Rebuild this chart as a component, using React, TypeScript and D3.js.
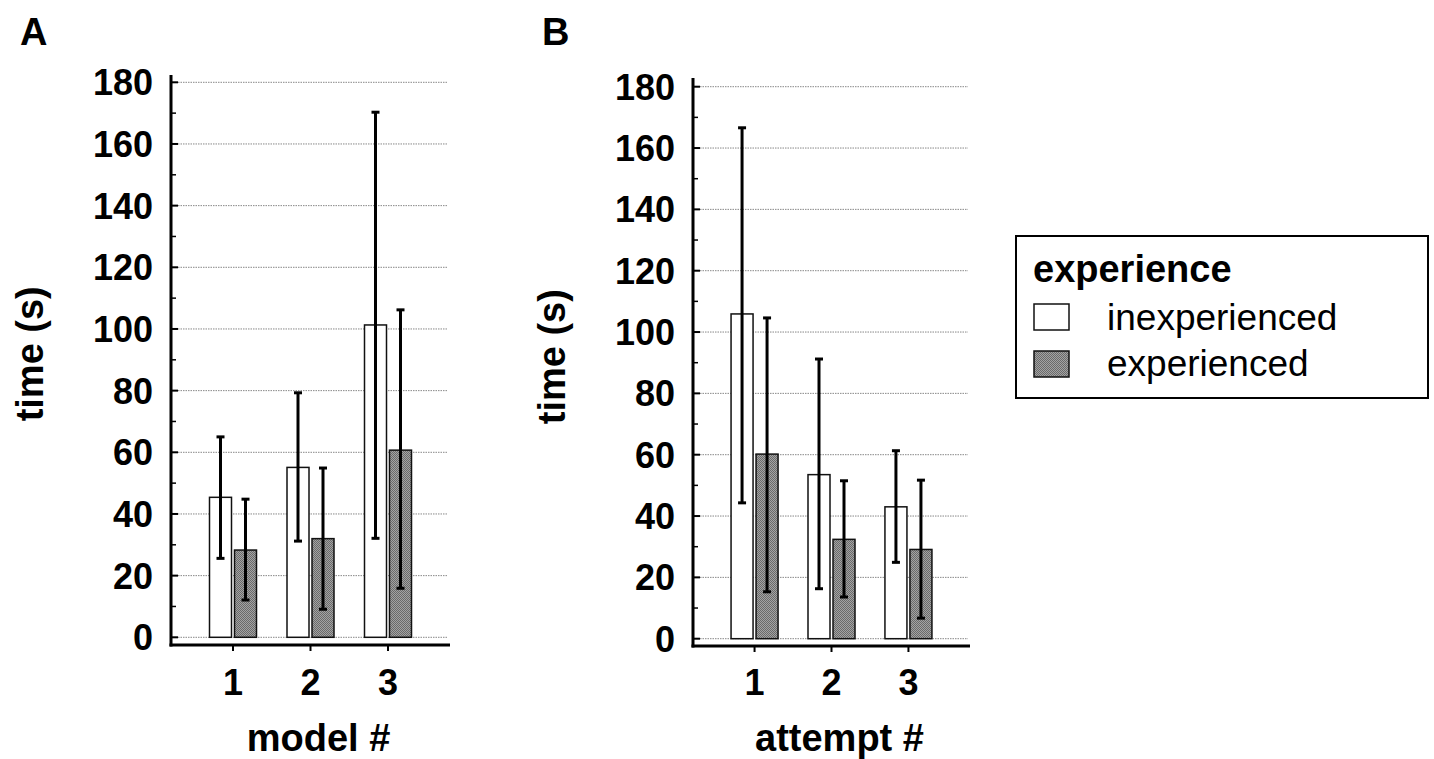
import React from 'react';
import * as d3 from 'd3';

const width = 1434;
const height = 759;
const font = '"Liberation Sans", Arial, sans-serif';

const groups = ['1', '2', '3'];
const yTicks = [0, 20, 40, 60, 80, 100, 120, 140, 160, 180];
const minorTicks = [10, 30, 50, 70, 90, 110, 130, 150, 170];

// panel A: model #
const modelInexpMean = [45.4, 55.1, 101.3];
const modelInexpLow = [25.6, 31.2, 32.1];
const modelInexpHigh = [65, 79.3, 170.3];
const modelExpMean = [28.3, 32, 60.7];
const modelExpLow = [12.1, 9.1, 15.9];
const modelExpHigh = [44.8, 54.9, 106.2];

// panel B: attempt #
const attemptInexpMean = [105.9, 53.5, 43];
const attemptInexpLow = [44.3, 16.3, 24.9];
const attemptInexpHigh = [166.6, 91.2, 61.3];
const attemptExpMean = [60.2, 32.4, 29.1];
const attemptExpLow = [15.3, 13.6, 6.7];
const attemptExpHigh = [104.6, 51.5, 51.7];

const seriesNames = ['inexperienced', 'experienced'];

type Series = { mean: number[]; low: number[]; high: number[] };

type PanelProps = {
  letter: string;
  letterX: number;
  axisX: number;
  xEnd: number;
  y0: number;
  y180: number;
  axisTop: number;
  baseY: number;
  titleX: number;
  xTitle: string;
  inexp: Series;
  exp: Series;
};

const barW = 22;

function Panel(p: PanelProps) {
  const y = d3.scaleLinear().domain([0, 180]).range([p.y0, p.y180]);
  const x = d3.scalePoint<string>().domain(groups).range([p.axisX, p.xEnd]).padding(0.8);

  const errBar = (cx: number, lo: number, hi: number, key: string) => (
    <g key={key} stroke="#000" strokeWidth={3}>
      <line x1={cx} x2={cx} y1={y(lo)} y2={y(hi)} />
      <line x1={cx - 4} x2={cx + 4} y1={y(hi)} y2={y(hi)} />
      <line x1={cx - 4} x2={cx + 4} y1={y(lo)} y2={y(lo)} />
    </g>
  );

  return (
    <g>
      <text x={p.letterX} y={45} fontFamily={font} fontWeight="bold" fontSize={38}>{p.letter}</text>
      {/* grid */}
      {yTicks.map(t => (
        <line key={'g' + t} x1={p.axisX + 7} x2={p.xEnd - 2} y1={y(t)} y2={y(t)}
          stroke="#888" strokeWidth={1} strokeDasharray="1.5,1" />
      ))}
      {/* bars */}
      {groups.map((g, i) => {
        const cx = x(g) as number;
        return (
          <g key={'b' + g}>
            <rect x={cx - barW - 1.5} y={y(p.inexp.mean[i])} width={barW} height={p.y0 - y(p.inexp.mean[i])}
              fill="#fff" stroke="#111" strokeWidth={1.5} />
            <rect x={cx + 1.5} y={y(p.exp.mean[i])} width={barW} height={p.y0 - y(p.exp.mean[i])}
              fill="url(#hatch)" stroke="#111" strokeWidth={1.5} />
            {errBar(cx - barW / 2 - 1.5, p.inexp.low[i], p.inexp.high[i], 'ei' + g)}
            {errBar(cx + barW / 2 + 1.5, p.exp.low[i], p.exp.high[i], 'ee' + g)}
          </g>
        );
      })}
      {/* y axis */}
      <line x1={p.axisX} x2={p.axisX} y1={p.axisTop} y2={p.baseY + 1.5} stroke="#000" strokeWidth={3} />
      {yTicks.map(t => (
        <g key={'t' + t}>
          <line x1={p.axisX} x2={p.axisX + 7} y1={y(t)} y2={y(t)} stroke="#000" strokeWidth={2} />
          <text x={p.axisX - 18} y={y(t)} dy="0.36em" textAnchor="end" fontFamily={font}
            fontWeight="bold" fontSize={36}>{t}</text>
        </g>
      ))}
      {minorTicks.map(t => (
        <line key={'m' + t} x1={p.axisX} x2={p.axisX + 5} y1={y(t)} y2={y(t)} stroke="#000" strokeWidth={1.5} />
      ))}
      {/* x axis */}
      <line x1={p.axisX - 1.5} x2={p.xEnd} y1={p.baseY} y2={p.baseY} stroke="#000" strokeWidth={3} />
      {groups.map(g => (
        <g key={'x' + g}>
          <line x1={x(g)} x2={x(g)} y1={p.baseY} y2={p.baseY + 6} stroke="#000" strokeWidth={2} />
          <text x={x(g)} y={695} textAnchor="middle" fontFamily={font} fontWeight="bold" fontSize={36}>{g}</text>
        </g>
      ))}
      <text x={(p.axisX + p.xEnd) / 2 + 8} y={751} textAnchor="middle" fontFamily={font} fontWeight="bold" fontSize={38}>
        {p.xTitle}
      </text>
      <text transform={`translate(${p.titleX},${(p.y0 + p.y180) / 2 - 6}) rotate(-90)`} textAnchor="middle"
        fontFamily={font} fontWeight="bold" fontSize={38}>time (s)</text>
    </g>
  );
}

export default function App() {
  return (
    <svg width={width} height={height} style={{ display: 'block', position: 'absolute', left: 0, top: 0 }}>
      <defs>
        <pattern id="hatch" width={2} height={2} patternUnits="userSpaceOnUse">
          <rect width={2} height={2} fill="#a3a3a3" />
          <rect width={1} height={1} fill="#6a6a6a" />
          <rect x={1} y={1} width={1} height={1} fill="#6a6a6a" />
        </pattern>
      </defs>
      <rect width={width} height={height} fill="#fff" />
      <Panel letter="A" letterX={20} axisX={171} xEnd={450} y0={637.3} y180={82.3} axisTop={75} baseY={645}
        titleX={43} xTitle="model #"
        inexp={{ mean: modelInexpMean, low: modelInexpLow, high: modelInexpHigh }}
        exp={{ mean: modelExpMean, low: modelExpLow, high: modelExpHigh }} />
      <Panel letter="B" letterX={542} axisX={693} xEnd={970} y0={638.7} y180={86.7} axisTop={78} baseY={646}
        titleX={565} xTitle="attempt #"
        inexp={{ mean: attemptInexpMean, low: attemptInexpLow, high: attemptInexpHigh }}
        exp={{ mean: attemptExpMean, low: attemptExpLow, high: attemptExpHigh }} />
      {/* legend */}
      <g>
        <rect x={1016} y={236} width={412} height={162} fill="#fff" stroke="#000" strokeWidth={2} />
        <text x={1033} y={282} fontFamily={font} fontWeight="bold" fontSize={38}>experience</text>
        <rect x={1034} y={304} width={35} height={26} fill="#fff" stroke="#111" strokeWidth={1.5} />
        <text x={1107} y={330} fontFamily={font} fontSize={37}>{seriesNames[0]}</text>
        <rect x={1034} y={351} width={35} height={26} fill="url(#hatch)" stroke="#111" strokeWidth={1.5} />
        <text x={1107} y={376} fontFamily={font} fontSize={37}>{seriesNames[1]}</text>
      </g>
    </svg>
  );
}
